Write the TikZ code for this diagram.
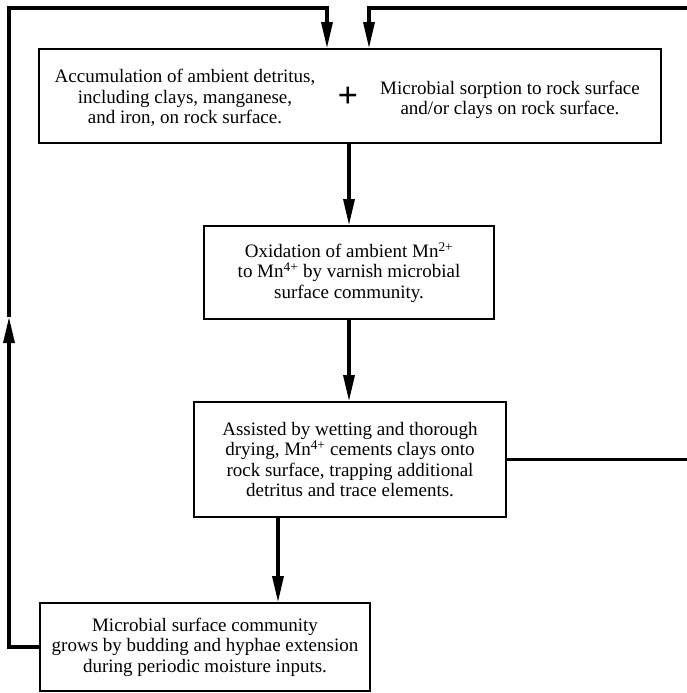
\documentclass[tikz,border=0pt]{standalone}
\usepackage{fontspec}
\setmainfont{Liberation Serif}
\usetikzlibrary{arrows.meta}
\begin{document}
\begin{tikzpicture}[x=1pt,y=-1pt,line cap=butt,line join=miter,>={Triangle[length=26pt,width=11pt]},font=\fontsize{19}{20.5}\selectfont]
		\tikzset{box/.style={draw,line width=1.6pt,minimum width=#1,inner sep=0pt,align=center},
			txt/.style={align=center,inner sep=0pt},
			flow/.style={line width=3.2pt}}
		\useasboundingbox (0,0) rectangle (687,693);
		\node[box=622pt,minimum height=94pt] (acc) at (350,96) {};
		\node[txt] (det) at (185,98) {Accumulation of ambient detritus,\\including clays, manganese,\\and iron, on rock surface.};
		\node[txt] (sorp) at (510,100) {Microbial sorption to rock surface\\and/or clays on rock surface.};
		\node[txt,font=\fontsize{36}{36}\selectfont\bfseries] (plus) at (348,97) {+};
		\node[box=290pt,minimum height=93pt] (oxi) at (349,272.5) {Oxidation of ambient Mn\textsuperscript{2+}\\to Mn\textsuperscript{4+} by varnish microbial\\surface community.};
		\node[box=312pt,minimum height=115pt] (cem) at (350,459.5) {Assisted by wetting and thorough\\drying, Mn\textsuperscript{4+} cements clays onto\\rock surface, trapping additional\\detritus and trace elements.};
		\node[box=330pt,minimum height=88pt] (grow) at (205,647) {Microbial surface community\\grows by budding and hyphae extension\\during periodic moisture inputs.};
		%--------- Main chain
		\draw[flow,->] (oxi.north |- acc.south) -- (oxi.north);
		\draw[flow,->] (oxi.south) -- (oxi.south |- cem.north);
		\coordinate (down) at (278,0);
		\draw[flow,->] (cem.south -| down) -- (grow.north -| down);
		%--------- Feedback
		\coordinate (lc) at (9,8);
		\coordinate (lm) at (9,317);
		\coordinate (inl) at (327,8);
		\draw[flow,->] (grow.west) -- (grow.west -| lc) -- (lm);
		\draw[flow,->] (lm) -- (lc) -- (inl) -- (acc.north -| inl);
		\coordinate (rc) at (692,8);
		\coordinate (inr) at (369,8);
		\draw[flow,->] (cem.east) -- (cem.east -| rc) -- (rc) -- (inr) -- (acc.north -| inr);
	\end{tikzpicture}
\end{document}
